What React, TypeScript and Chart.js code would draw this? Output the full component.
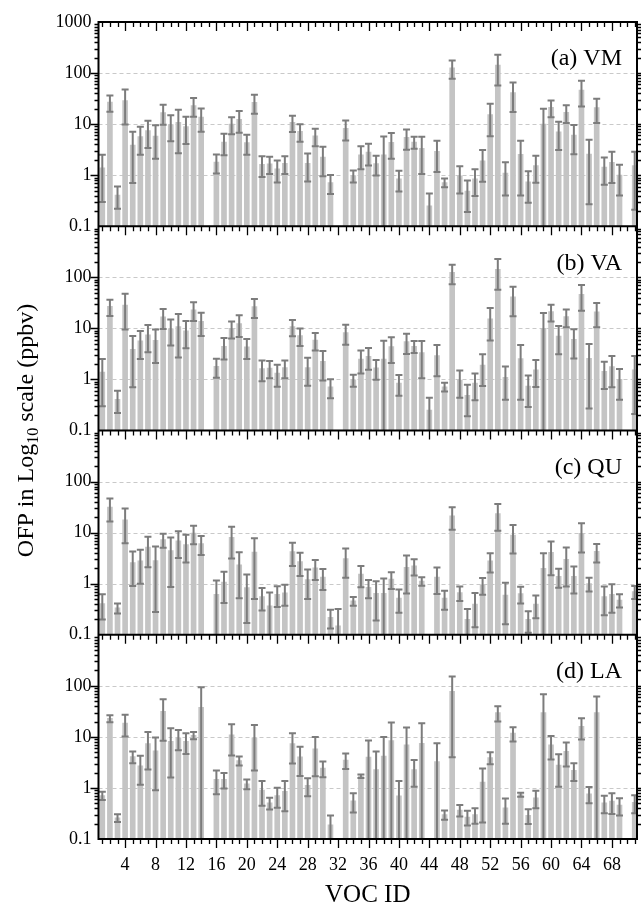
import React, { useEffect, useRef } from 'react';
import { Chart, registerables } from 'chart.js';

Chart.register(...registerables);

const FONT = "'Liberation Serif', 'Times New Roman', Times, serif";
const BAR_COLOR = '#c4c4c4';
const ERR_COLOR = '#7c7c7c';

const VOC_IDS = [
  1, 2, 3, 4, 5, 6, 7, 8, 9, 10, 11, 12, 13, 14, 15, 16, 17, 18, 19, 20,
  21, 22, 23, 24, 25, 26, 27, 28, 29, 30, 31, 32, 33, 34, 35, 36, 37, 38, 39, 40,
  41, 42, 43, 44, 45, 46, 47, 48, 49, 50, 51, 52, 53, 54, 55, 56, 57, 58, 59, 60,
  61, 62, 63, 64, 65, 66, 67, 68, 69, 70, 71,
];
const X_TICKS = [4, 8, 12, 16, 20, 24, 28, 32, 36, 40, 44, 48, 52, 56, 60, 64, 68];
const Y_LABELS = [0.1, 1, 10, 100, 1000];
const PANEL_LABELS = ['(a) VM', '(b) VA', '(c) QU', '(d) LA'];

const VM_MEAN = [
  1.4, 27, 0.41, 28.8, 3.9, 5.7, 7.5, 5.8, 16.8, 9.8,
  10.9, 9.0, 23.1, 13.7, null, 1.81, 4.47, 10.0, 12.4, 4.35,
  26.8, 1.64, 1.67, 1.33, 1.71, 10.8, 7.25, 1.7, 5.9, 2.27,
  0.72, null, 8.3, 0.98, 2.5, 2.83, 1.69, 2.5, 4.4, 0.85,
  5.5, 4.47, 3.35, 0.25, 2.93, 0.72, 127, 0.97, 0.49, 0.85,
  1.92, 15.4, 143, 1.1, 41.4, 2.55, 0.74, 1.55, 10, 21.4,
  7.1, 17, 6.07, 46.5, 2.6, 21, 1.44, 1.79, 1.0, null, 1.54,
];
const VM_SD = [
  1.1, 9.5, 0.19, 19, 3.2, 3.2, 4.1, 3.7, 7.1, 5.2,
  8.2, 4.9, 9.2, 6.6, null, 0.73, 2.0, 3.7, 5.6, 1.84,
  10.8, 0.72, 0.62, 0.61, 0.65, 3.8, 2.75, 0.95, 2.2, 1.32,
  0.29, null, 3.5, 0.26, 1.2, 1.28, 0.7, 3.2, 2.3, 0.37,
  2.36, 1.19, 2.3, 0.19, 1.77, 0.14, 50, 0.53, 0.3, 0.46,
  1.18, 9.6, 86, 0.7, 24.2, 2.15, 0.45, 0.84, 9.9, 7.7,
  4.0, 6.5, 3.5, 24.3, 2.33, 10.5, 0.79, 1.09, 0.6, null, 1.33,
];

const VA_MEAN = [
  1.4, 27, 0.41, 28.5, 3.9, 5.7, 7.5, 5.8, 16.8, 9.8,
  10.9, 9.0, 23.1, 13.7, null, 1.81, 4.47, 10.0, 12.4, 4.35,
  26.8, 1.64, 1.67, 1.33, 1.71, 10.8, 7.25, 1.7, 5.9, 2.27,
  0.72, null, 8.3, 0.98, 2.5, 2.83, 1.69, 2.5, 4.4, 0.85,
  5.5, 4.47, 3.35, 0.25, 2.93, 0.72, 125, 0.97, 0.49, 0.85,
  1.92, 15.4, 143, 1.1, 41.4, 2.55, 0.74, 1.55, 10, 21.4,
  7.1, 17, 6.07, 46.5, 2.6, 21, 1.44, 1.79, 1.0, null, 1.54,
];
const VA_SD = [
  1.1, 9.5, 0.19, 19, 3.2, 3.2, 4.1, 3.7, 7.1, 5.2,
  8.2, 4.9, 9.2, 6.6, null, 0.73, 2.0, 3.7, 5.6, 1.84,
  10.8, 0.72, 0.62, 0.61, 0.65, 3.8, 2.75, 0.95, 2.2, 1.32,
  0.29, null, 3.5, 0.26, 1.2, 1.28, 0.7, 3.2, 2.3, 0.37,
  2.36, 1.19, 2.3, 0.19, 1.77, 0.14, 52, 0.53, 0.3, 0.46,
  1.18, 9.6, 86, 0.7, 24.2, 2.15, 0.45, 0.84, 9.9, 7.7,
  4.0, 6.5, 3.5, 24.3, 2.33, 10.5, 0.79, 1.09, 0.6, null, 1.33,
];

const QU_MEAN = [
  0.41, 31.5, 0.335, 17.9, 2.58, 2.8, 5.2, 2.82, 7.27, 4.46,
  6.9, 5.85, 9.8, 6.1, null, 0.62, 1.07, 8.1, 2.33, 0.84,
  4.15, 0.56, 0.37, 0.62, 0.66, 4.27, 2.72, 1.2, 2.05, 1.35,
  0.22, 0.15, 3.1, 0.46, 1.54, 0.85, 0.65, 0.65, 1.23, 0.52,
  2.1, 2.23, 1.12, null, 1.35, 0.52, 21.4, 0.67, 0.2, 0.4,
  0.95, 2.8, 23.7, 0.6, 9.0, 0.64, 0.2, 0.4, 2.0, 4.1,
  1.4, 3.0, 1.4, 9.65, 1.0, 4.28, 0.56, 0.62, 0.48, null, 0.7,
];
const QU_SD = [
  0.21, 15, 0.075, 11.7, 1.68, 1.8, 3.1, 2.54, 2.23, 3.6,
  3.7, 3.25, 3.9, 2.45, null, 0.53, 0.65, 5.0, 1.81, 0.67,
  3.65, 0.26, 0.3, 0.27, 0.29, 2.05, 1.3, 0.7, 0.87, 0.6,
  0.088, 0.17, 1.79, 0.09, 0.69, 0.33, 0.46, 0.62, 0.44, 0.25,
  1.46, 0.79, 0.21, null, 0.72, 0.21, 10, 0.21, 0.12, 0.26,
  0.34, 1.15, 12.8, 0.44, 5.1, 0.23, 0.09, 0.19, 1.95, 2.63,
  0.57, 2.12, 0.76, 5.56, 0.3, 1.68, 0.32, 0.35, 0.14, null, 0.2,
];

const LA_MEAN = [
  0.71, 23, 0.26, 18.6, 4.1, 2.7, 7.4, 5.3, 31.6, 8.2,
  9.6, 8.2, 10.7, 38, null, 1.47, 1.47, 11, 3.43, 1.2,
  9.6, 0.91, 0.51, 0.71, 0.86, 7.4, 4.05, 1.12, 5.8, 2.45,
  0.19, null, 3.53, 0.56, 1.7, 4.0, 2.3, 4.2, 8.5, 0.7,
  7, 2.3, 7.5, null, 3.3, 0.3, 78, 0.37, 0.27, 0.3,
  1.3, 3.95, 30, 0.41, 11.8, 0.74, 0.29, 0.64, 30, 7.0,
  2.8, 5.2, 2.2, 16, 0.77, 30, 0.51, 0.55, 0.46, null, 0.52,
];
const LA_SD = [
  0.13, 3.6, 0.045, 8.4, 1.05, 1.55, 5.1, 4.4, 23.2, 6.6,
  4.1, 3.6, 1.7, 56, null, 0.72, 0.5, 6.7, 0.68, 0.26,
  7.4, 0.46, 0.13, 0.3, 0.51, 4.4, 2.33, 0.43, 4.1, 0.83,
  0.1, null, 1.18, 0.23, 0.13, 4.5, 2.9, 5.8, 10.6, 0.67,
  8.2, 1.24, 11, null, 4.2, 0.062, 74, 0.095, 0.086, 0.1,
  1.09, 1.05, 10, 0.21, 3.7, 0.067, 0.093, 0.24, 38, 3.4,
  1.75, 2.56, 0.84, 7.1, 0.27, 32, 0.19, 0.24, 0.17, null, 0.2,
];

const PANELS = [
  { id: 'ya', label: PANEL_LABELS[0], mean: VM_MEAN, sd: VM_SD, weight: 4 },
  { id: 'yb', label: PANEL_LABELS[1], mean: VA_MEAN, sd: VA_SD, weight: 3 },
  { id: 'yc', label: PANEL_LABELS[2], mean: QU_MEAN, sd: QU_SD, weight: 2 },
  { id: 'yd', label: PANEL_LABELS[3], mean: LA_MEAN, sd: LA_SD, weight: 1 },
];

const isDecade = (v: number) => {
  const l = Math.log10(v);
  return Math.abs(l - Math.round(l)) < 1e-6;
};

const decorPlugin = {
  id: 'decor',
  beforeDatasetsDraw(chart: any) {
    const ctx = chart.ctx;
    const { left, right } = chart.chartArea;
    ctx.save();
    ctx.strokeStyle = '#c9c9c9';
    ctx.lineWidth = 1;
    ctx.setLineDash([4, 3]);
    PANELS.forEach((p) => {
      const s = chart.scales[p.id];
      [1, 10, 100].forEach((v) => {
        const y = Math.round(s.getPixelForValue(v)) + 0.5;
        ctx.beginPath();
        ctx.moveTo(left, y);
        ctx.lineTo(right, y);
        ctx.stroke();
      });
    });
    ctx.restore();
  },
  afterDatasetsDraw(chart: any) {
    const ctx = chart.ctx;
    const xs = chart.scales.x;
    const { left, right, top, bottom } = chart.chartArea;
    ctx.save();
    ctx.beginPath();
    ctx.rect(left, top, right - left, bottom - top);
    ctx.clip();
    ctx.strokeStyle = ERR_COLOR;
    ctx.lineWidth = 2;
    const cap = 3.5;
    PANELS.forEach((p) => {
      const s = chart.scales[p.id];
      p.mean.forEach((m: number | null, i: number) => {
        if (m == null) return;
        const sd = p.sd[i] as number;
        const x = xs.getPixelForValue(VOC_IDS[i]);
        const hi = m + sd;
        const lo = m - sd;
        const yHi = s.getPixelForValue(Math.min(hi, s.max));
        const hasLo = lo > s.min * 1.02;
        const yLo = hasLo ? s.getPixelForValue(lo) : s.bottom;
        ctx.beginPath();
        ctx.moveTo(x, yHi);
        ctx.lineTo(x, yLo);
        ctx.moveTo(x - cap, yHi);
        ctx.lineTo(x + cap, yHi);
        if (hasLo) {
          ctx.moveTo(x - cap, yLo);
          ctx.lineTo(x + cap, yLo);
        }
        ctx.stroke();
      });
    });
    ctx.restore();
  },
  afterDraw(chart: any) {
    const ctx = chart.ctx;
    const { left, right, top, bottom } = chart.chartArea;
    const xs = chart.scales.x;
    ctx.save();
    ctx.strokeStyle = '#000';
    ctx.fillStyle = '#000';
    // y ticks (left outward, right outward)
    ctx.lineWidth = 1.3;
    PANELS.forEach((p) => {
      const s = chart.scales[p.id];
      for (let e = -1; e <= 2; e++) {
        for (let k = 1; k <= 9; k++) {
          const v = k * Math.pow(10, e);
          if (v <= s.min * 1.0001) continue;
          const y = Math.round(s.getPixelForValue(v)) + 0.5;
          const len = k === 1 ? 8 : 4;
          ctx.beginPath();
          ctx.moveTo(left, y);
          ctx.lineTo(left - len, y);
          ctx.moveTo(right, y);
          ctx.lineTo(right + len, y);
          ctx.stroke();
        }
      }
    });
    // x ticks at every horizontal line, pointing down
    const hLines = [top, ...PANELS.map((p) => chart.scales[p.id].bottom)];
    hLines.forEach((yh) => {
      for (let i = 1; i <= 71; i++) {
        const x = Math.round(xs.getPixelForValue(i)) + 0.5;
        const len = i % 4 === 0 ? 9 : 5;
        ctx.beginPath();
        ctx.moveTo(x, yh);
        ctx.lineTo(x, yh + len);
        ctx.stroke();
      }
    });
    // frame
    ctx.lineWidth = 2;
    ctx.beginPath();
    hLines.forEach((yh) => {
      ctx.moveTo(left - 1, yh);
      ctx.lineTo(right + 1, yh);
    });
    ctx.moveTo(left, top);
    ctx.lineTo(left, bottom);
    ctx.moveTo(right, top);
    ctx.lineTo(right, bottom);
    ctx.stroke();
    // panel labels
    ctx.font = `24px ${FONT}`;
    ctx.textAlign = 'right';
    ctx.textBaseline = 'middle';
    PANELS.forEach((p) => {
      const s = chart.scales[p.id];
      ctx.fillText(p.label, 622, s.top + 37);
    });
    // x title
    ctx.font = `25px ${FONT}`;
    ctx.textAlign = 'center';
    ctx.textBaseline = 'middle';
    ctx.fillText('VOC ID', (left + right) / 2, 895);
    // y title with subscript
    ctx.translate(25, (top + bottom) / 2);
    ctx.rotate(-Math.PI / 2);
    ctx.textAlign = 'left';
    ctx.textBaseline = 'alphabetic';
    const big = `24px ${FONT}`;
    const small = `16px ${FONT}`;
    const parts = [
      { t: 'OFP in Log', f: big, dy: 0 },
      { t: '10', f: small, dy: 5 },
      { t: ' scale (ppbv)', f: big, dy: 0 },
    ];
    let w = 0;
    parts.forEach((pt) => {
      ctx.font = pt.f;
      w += ctx.measureText(pt.t).width;
    });
    let cx = -w / 2;
    parts.forEach((pt) => {
      ctx.font = pt.f;
      ctx.fillText(pt.t, cx, 8 + pt.dy);
      cx += ctx.measureText(pt.t).width;
    });
    ctx.restore();
  },
};

export default function App() {
  const ref = useRef<HTMLCanvasElement | null>(null);
  useEffect(() => {
    document.body.style.margin = '0';
    const canvas = ref.current;
    if (!canvas) return;
    const datasets = PANELS.map((p) => ({
      type: 'bar' as const,
      label: p.label,
      yAxisID: p.id,
      xAxisID: 'x',
      data: VOC_IDS.map((id, i) => (p.mean[i] == null ? null : { x: id, y: p.mean[i] })).filter(
        (d) => d !== null
      ),
      backgroundColor: BAR_COLOR,
      borderWidth: 0,
      barThickness: 5,
      grouped: false,
      base: 0.1,
    }));
    const yScales: any = {};
    PANELS.forEach((p, k) => {
      yScales[p.id] = {
        type: 'logarithmic',
        position: 'left',
        stack: 'panels',
        stackWeight: 1,
        weight: p.weight,
        offset: false,
        min: 0.1,
        max: 1000,
        afterFit: (s: any) => {
          s.width = 98.5;
        },
        grid: { display: false, drawTicks: false },
        border: { display: false },
        ticks: {
          autoSkip: false,
          padding: 7,
          color: '#000',
          font: { family: FONT, size: 18 },
          callback: (v: any) => {
            const n = Number(v);
            if (!isDecade(n)) return '';
            if (Math.abs(n - 1000) < 1e-6 && k !== 0) return '';
            return String(Y_LABELS.find((y) => Math.abs(y - n) < 1e-9) ?? n);
          },
        },
      };
    });
    const chart = new Chart(canvas, {
      type: 'bar',
      data: { datasets: datasets as any },
      options: {
        responsive: false,
        animation: false,
        events: [],
        layout: { padding: { left: 0, right: 4, top: 22, bottom: 0 } },
        plugins: { legend: { display: false }, tooltip: { enabled: false } },
        scales: {
          x: {
            type: 'linear',
            position: 'bottom',
            offset: false,
            min: 0.5,
            max: 71.3,
            afterFit: (s: any) => {
              s.height = 66;
            },
            afterBuildTicks: (s: any) => {
              s.ticks = X_TICKS.map((v) => ({ value: v }));
            },
            grid: { display: false, drawTicks: false, offset: false },
            border: { display: false },
            ticks: {
              autoSkip: false,
              maxRotation: 0,
              padding: 15,
              color: '#000',
              font: { family: FONT, size: 18 },
              callback: (v: any) => String(v),
            },
          },
          ...yScales,
        },
      },
      plugins: [decorPlugin],
    });
    return () => chart.destroy();
  }, []);
  return (
    <div style={{ position: 'absolute', left: 0, top: 0, width: 641, height: 905, background: '#fff' }}>
      <canvas ref={ref} width={641} height={905} style={{ display: 'block', width: 641, height: 905 }} />
    </div>
  );
}
